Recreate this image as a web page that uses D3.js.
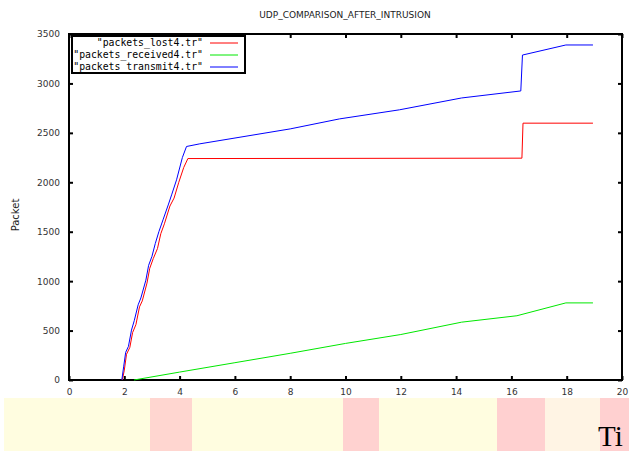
<!DOCTYPE html>
<html>
<head>
<meta charset="utf-8">
<script src="https://cdn.jsdelivr.net/npm/d3@7"></script>
<style>
  body { margin: 0; background: #fff; }
  svg { display: block; }
</style>
</head>
<body>
<svg></svg>
<script>
// time (s) vs packet counts
const lostX = [1.93, 2.0, 2.08, 2.2, 2.3, 2.42, 2.55, 2.65, 2.82, 2.92, 3.05, 3.2, 3.32, 3.45, 3.65, 3.8, 3.97, 4.15, 4.3, 16.38, 16.42, 18.95];
const lostY = [0, 100, 260, 330, 480, 560, 740, 800, 980, 1130, 1230, 1330, 1480, 1580, 1760, 1840, 2000, 2150, 2240, 2244, 2598, 2598];

const receivedX = [2.35, 4, 6, 8, 10, 12, 14.2, 16.2, 17.97, 18.95];
const receivedY = [0, 80, 175, 270, 370, 460, 585, 650, 780, 780];

const transmitX = [1.91, 1.98, 2.05, 2.15, 2.26, 2.36, 2.5, 2.6, 2.78, 2.88, 3.0, 3.12, 3.25, 3.4, 3.6, 3.72, 3.89, 4.1, 4.25, 4.73, 8, 9.78, 11.95, 14.2, 16.34, 16.4, 17.97, 18.95];
const transmitY = [0, 140, 280, 340, 505, 600, 760, 830, 1010, 1160, 1250, 1380, 1500, 1620, 1780, 1880, 2025, 2250, 2362, 2389, 2540, 2641, 2733, 2853, 2924, 3287, 3389, 3389];

const seriesNames = ['"packets_lost4.tr"', '"packets_received4.tr"', '"packets_transmit4.tr"'];
const seriesColors = ["#ff0000", "#00e800", "#0000ff"];

const xTicks = [0, 2, 4, 6, 8, 10, 12, 14, 16, 18, 20];
const yTicks = [0, 500, 1000, 1500, 2000, 2500, 3000, 3500];

const series = [
    d3.zip(lostX, lostY),
    d3.zip(receivedX, receivedY),
    d3.zip(transmitX, transmitY)
];

var svgWidth = 629,
    svgHeight = 451;

var margin = { top: 34, right: 7, bottom: 71, left: 69 };
var width = svgWidth - margin.left - margin.right;
var height = svgHeight - margin.top - margin.bottom;

var svg = d3.select("svg")
    .attr("width", svgWidth)
    .attr("height", svgHeight);

// the blurry strip under the plot (scan artefact in the source)
const bandBlocks = [
    { x: 4, w: 625, fill: "#fffde0" },
    { x: 150, w: 42, fill: "#ffd6d0" },
    { x: 343, w: 36, fill: "#ffd2d0" },
    { x: 497, w: 48, fill: "#ffd0d0" },
    { x: 545, w: 55, fill: "#fff4e4" },
    { x: 600, w: 29, fill: "#ffd0d0" }
];
svg.selectAll("rect.band")
    .data(bandBlocks)
    .enter()
    .append("rect")
    .attr("class", "band")
    .attr("x", d => d.x)
    .attr("y", 398)
    .attr("width", d => d.w)
    .attr("height", 53)
    .attr("fill", d => d.fill);

svg.append("text")
    .attr("x", 598)
    .attr("y", 446)
    .attr("font-family", "Liberation Serif")
    .attr("font-size", 29)
    .attr("fill", "#000")
    .text("Ti");

var g = svg.append("g")
    .attr("transform", "translate(" + margin.left + "," + margin.top + ")");

var x = d3.scaleLinear().domain([0, 20]).range([0, width]);
var y = d3.scaleLinear().domain([0, 3500]).range([height, 0]);

// title and y label
svg.append("text")
    .attr("x", 345)
    .attr("y", 18)
    .attr("text-anchor", "middle")
    .attr("font-family", "DejaVu Sans")
    .attr("font-size", 9)
    .attr("fill", "#222")
    .text("UDP_COMPARISON_AFTER_INTRUSION");

svg.append("text")
    .attr("transform", "translate(19,215) rotate(-90)")
    .attr("text-anchor", "middle")
    .attr("font-family", "DejaVu Sans")
    .attr("font-size", 10)
    .attr("fill", "#222")
    .text("Packet");

// axes, gnuplot style: ticks inward on all four sides
g.append("g")
    .attr("transform", "translate(0," + height + ")")
    .call(d3.axisBottom(x).tickValues(xTicks).tickFormat(d3.format("d")).tickSizeInner(-4).tickSizeOuter(0).tickPadding(9))
    .call(s => s.select(".domain").remove());

g.append("g")
    .call(d3.axisTop(x).tickValues(xTicks).tickSizeInner(-4).tickSizeOuter(0).tickFormat(""))
    .call(s => s.select(".domain").remove());

g.append("g")
    .call(d3.axisLeft(y).tickValues(yTicks).tickFormat(d3.format("d")).tickSizeInner(-4).tickSizeOuter(0).tickPadding(9))
    .call(s => s.select(".domain").remove());

g.append("g")
    .attr("transform", "translate(" + width + ",0)")
    .call(d3.axisRight(y).tickValues(yTicks).tickSizeInner(-4).tickSizeOuter(0).tickFormat(""))
    .call(s => s.select(".domain").remove());

g.selectAll(".tick line")
    .attr("stroke", "#000")
    .attr("stroke-width", 2);

g.selectAll(".tick text")
    .attr("font-family", "DejaVu Sans")
    .attr("font-size", 9)
    .attr("fill", "#333");

g.append("rect")
    .attr("width", width)
    .attr("height", height)
    .attr("fill", "none")
    .attr("stroke", "#000")
    .attr("stroke-width", 2);

// lines
var line = d3.line()
    .x(d => x(d[0]))
    .y(d => y(d[1]));

g.selectAll("path.series")
    .data(series)
    .enter()
    .append("path")
    .attr("class", "series")
    .attr("fill", "none")
    .attr("stroke", (d, i) => seriesColors[i])
    .attr("stroke-width", 1)
    .attr("d", line);

// legend box
var legend = svg.append("g").attr("transform", "translate(72,36)");

legend.append("rect")
    .attr("width", 173)
    .attr("height", 37)
    .attr("fill", "#fff")
    .attr("stroke", "#000")
    .attr("stroke-width", 2);

seriesNames.forEach((name, i) => {
    legend.append("text")
        .attr("x", 131)
        .attr("y", 10 + i * 12)
        .attr("text-anchor", "end")
        .attr("font-family", "DejaVu Sans Mono")
        .attr("font-size", 9.8)
        .attr("fill", "#000")
        .text(name);
    legend.append("line")
        .attr("x1", 138)
        .attr("x2", 166)
        .attr("y1", 7 + i * 12)
        .attr("y2", 7 + i * 12)
        .attr("stroke", seriesColors[i])
        .attr("stroke-width", 1);
});
</script>
</body>
</html>
